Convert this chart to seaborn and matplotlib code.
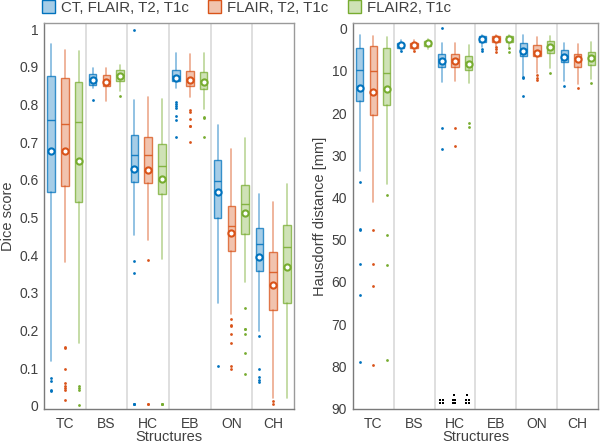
import numpy as np
import pandas as pd
import matplotlib
matplotlib.use("Agg")
import matplotlib.pyplot as plt
from matplotlib.patches import Patch
from matplotlib.colors import to_rgba
import seaborn as sns

# --- data ---
structures = ["TC", "BS", "HC", "EB", "ON", "CH"]
methods = ["CT, FLAIR, T2, T1c", "FLAIR, T2, T1c", "FLAIR2, T1c"]
colors = ["#0072BD", "#D95319", "#77AC30"]

# per structure: (whisker low, q1, median, q3, whisker high, mean)
dice_ct = [(0.119, 0.567, 0.760, 0.876, 0.960, 0.677),
           (0.845, 0.852, 0.868, 0.881, 0.898, 0.866),
           (0.455, 0.594, 0.667, 0.720, 0.813, 0.630),
           (0.844, 0.863, 0.877, 0.892, 0.938, 0.870),
           (0.272, 0.498, 0.596, 0.653, 0.746, 0.569),
           (0.200, 0.359, 0.431, 0.472, 0.563, 0.396)]
dice_fl = [(0.382, 0.585, 0.749, 0.870, 0.945, 0.676),
           (0.810, 0.849, 0.862, 0.878, 0.898, 0.861),
           (0.440, 0.592, 0.665, 0.715, 0.819, 0.625),
           (0.821, 0.848, 0.868, 0.889, 0.935, 0.864),
           (0.243, 0.410, 0.477, 0.530, 0.682, 0.459),
           (0.020, 0.254, 0.356, 0.409, 0.540, 0.322)]
dice_f2 = [(0.167, 0.540, 0.753, 0.859, 0.941, 0.649),
           (0.835, 0.863, 0.878, 0.892, 0.905, 0.876),
           (0.391, 0.563, 0.638, 0.696, 0.815, 0.602),
           (0.788, 0.842, 0.862, 0.886, 0.936, 0.861),
           (0.328, 0.457, 0.536, 0.586, 0.711, 0.512),
           (0.022, 0.274, 0.421, 0.481, 0.590, 0.368)]

dice_ct_out = [[0.075, 0.065, 0.043, 0.040], [0.813],
               [0.998, 0.386, 0.353, 0.004, 0.004, 0.004],
               [0.808, 0.802, 0.797, 0.791, 0.770, 0.758, 0.713],
               [0.105], [0.185, 0.099, 0.076, 0.068, 0.063]]
dice_fl_out = [[0.156, 0.153, 0.099, 0.060, 0.052, 0.048, 0.042, 0.017], [],
               [0.388, 0.004, 0.004], [0.786, 0.779, 0.762, 0.744, 0.742, 0.700],
               [0.231, 0.216, 0.213, 0.192, 0.166, 0.105, 0.099], [0.013, 0.004]]
dice_f2_out = [[0.053, 0.048, 0.043, 0.003], [0.823], [0.004, 0.004, 0.004],
               [0.767, 0.765, 0.713], [0.261, 0.205, 0.203, 0.190, 0.141, 0.084], []]

hd_ct = [(1.6, 4.5, 9.8, 17.1, 33.8, 14.1),
         (2.8, 3.3, 3.7, 4.5, 5.0, 3.9),
         (3.5, 6.1, 7.3, 9.2, 12.7, 7.7),
         (1.5, 1.8, 2.3, 3.2, 4.3, 2.5),
         (1.6, 3.5, 4.9, 6.5, 11.3, 5.3),
         (3.5, 5.0, 6.5, 8.0, 12.4, 6.8)]
hd_fl = [(1.8, 4.2, 10.0, 20.4, 41.0, 14.9),
         (2.8, 3.3, 3.7, 4.5, 5.0, 3.9),
         (3.5, 5.9, 7.3, 9.1, 12.4, 7.7),
         (1.5, 1.8, 2.3, 3.2, 4.0, 2.5),
         (2.1, 3.8, 5.3, 6.5, 10.6, 5.7),
         (3.7, 5.9, 7.0, 9.1, 13.0, 7.3)]
hd_f2 = [(2.0, 4.5, 10.4, 18.1, 36.7, 14.2),
         (2.4, 2.9, 3.3, 4.1, 4.9, 3.5),
         (3.9, 6.5, 8.0, 9.7, 12.8, 8.3),
         (1.5, 1.8, 2.3, 3.2, 4.3, 2.5),
         (1.8, 2.9, 4.0, 5.7, 9.4, 4.3),
         (3.2, 5.5, 6.6, 8.5, 12.0, 6.9)]

hd_ct_out = [[36.3, 47.4, 47.7, 55.8, 63.1, 78.9], [5.4],
             [-0.2, 23.6, 28.5], [4.9, 5.3],
             [11.4, 11.8, 16.0], [13.5]]
hd_fl_out = [[47.7, 55.7, 61.0, 79.7], [5.4],
             [23.6, 27.7], [4.3, 4.8, 5.5],
             [10.9, 11.6, 12.2], [14.0]]
hd_f2_out = [[39.3, 48.8, 55.9, 78.5], [],
             [22.3, 23.2], [4.7, 5.5],
             [10.4], [12.8]]

# clipped markers piled at the bottom of the HC column (black)
hd_clip_dx = [-0.36, -0.30, -0.36, -0.30, -0.03, -0.06, 0.0, -0.06, 0.0,
              0.30, 0.27, 0.33, 0.27, 0.33]
hd_clip_y = [87.9, 87.9, 88.8, 88.8, 86.9, 87.9, 87.9, 88.8, 88.8,
             86.9, 87.9, 87.9, 88.8, 88.8]

offsets = [-0.33, 0.0, 0.33]

sns.set_style("white")
plt.rcParams["font.family"] = ["Liberation Sans", "DejaVu Sans"]
text_col = "#404040"
fs = 10
fs_lab = 10.5

fig = plt.figure(figsize=(6, 4.45), dpi=100)
ax1 = fig.add_axes([0.0733, 0.081, 0.4167, 0.867])
ax2 = fig.add_axes([0.588, 0.081, 0.409, 0.867])


def draw_panel(ax, boxes, outs):
    for k, (stats_list, out_list) in enumerate(zip(boxes, outs)):
        c = colors[k]
        stats = []
        for lo, q1, med, q3, hi, mn in stats_list:
            stats.append(dict(whislo=lo, q1=q1, med=med, q3=q3, whishi=hi,
                              mean=mn, fliers=[]))
        pos = np.arange(len(structures)) + offsets[k]
        ax.bxp(stats, positions=pos, widths=0.18, patch_artist=True,
               showcaps=False, showfliers=False, showmeans=False,
               boxprops=dict(facecolor=to_rgba(c, 0.35), edgecolor=to_rgba(c, 0.75), lw=1.0),
               whiskerprops=dict(color=to_rgba(c, 0.5), lw=1.2),
               medianprops=dict(color=to_rgba(c, 0.85), lw=1.0))
        # means
        means = pd.DataFrame({"x": pos, "y": [s[5] for s in stats_list]})
        sns.scatterplot(data=means, x="x", y="y", ax=ax, marker="o", s=20,
                        facecolor="white", edgecolor=c, linewidth=1.5, zorder=5)
        # outliers
        ox, oy = [], []
        for i, vals in enumerate(out_list):
            for v in vals:
                ox.append(i + offsets[k])
                oy.append(v)
        if ox:
            outl = pd.DataFrame({"x": ox, "y": oy})
            sns.scatterplot(data=outl, x="x", y="y", ax=ax, marker="o", s=4,
                            color=c, linewidth=0, zorder=4)

    for b in np.arange(0.5, len(structures) - 0.5, 1.0):
        ax.axvline(b, color="#d9d9d9", lw=1.2, zorder=0)
    ax.set_xlim(-0.5, len(structures) - 0.5)
    ax.set_xticks(range(len(structures)))
    ax.set_xticklabels(structures)
    ax.set_xlabel("Structures", fontsize=fs_lab, color=text_col, labelpad=-1)
    ax.tick_params(axis="x", length=0, labelsize=fs, labelcolor=text_col, pad=6)
    ax.tick_params(axis="y", length=0, labelsize=fs, labelcolor=text_col, pad=4)
    for sp in ax.spines.values():
        sp.set_color("#9a9a9a")
        sp.set_linewidth(1.0)
    ax.spines["left"].set_color("#7a7a7a")
    ax.spines["bottom"].set_color("#7a7a7a")


draw_panel(ax1, [dice_ct, dice_fl, dice_f2], [dice_ct_out, dice_fl_out, dice_f2_out])
ax1.set_ylim(-0.008, 1.016)
ax1.set_yticks(np.arange(0, 1.01, 0.1))
ax1.set_yticklabels(["0"] + [f"{v:.1f}" for v in np.arange(0.1, 0.95, 0.1)] + ["1"])
ax1.set_ylabel("Dice score", fontsize=fs_lab, color=text_col, labelpad=3)

draw_panel(ax2, [hd_ct, hd_fl, hd_f2], [hd_ct_out, hd_fl_out, hd_f2_out])
clip = pd.DataFrame({"x": [2 + d for d in hd_clip_dx], "y": hd_clip_y})
sns.scatterplot(data=clip, x="x", y="y", ax=ax2, marker="s", s=3,
                color="black", linewidth=0, zorder=4)
ax2.set_ylim(90.1, -1.3)
ax2.set_yticks(range(0, 91, 10))
ax2.set_ylabel("Hausdorff distance [mm]", fontsize=fs_lab, color=text_col, labelpad=3)

handles = [Patch(facecolor=to_rgba(c, 0.35), edgecolor=c, lw=1.0) for c in colors]
fig.legend(handles, methods, loc="upper left", bbox_to_anchor=(0.048, 1.03), ncol=3,
           frameon=False, fontsize=10.8, handlelength=0.85, handleheight=0.9,
           handletextpad=0.4, columnspacing=1.3, labelcolor=text_col)

fig.savefig("out.png", dpi=100)
